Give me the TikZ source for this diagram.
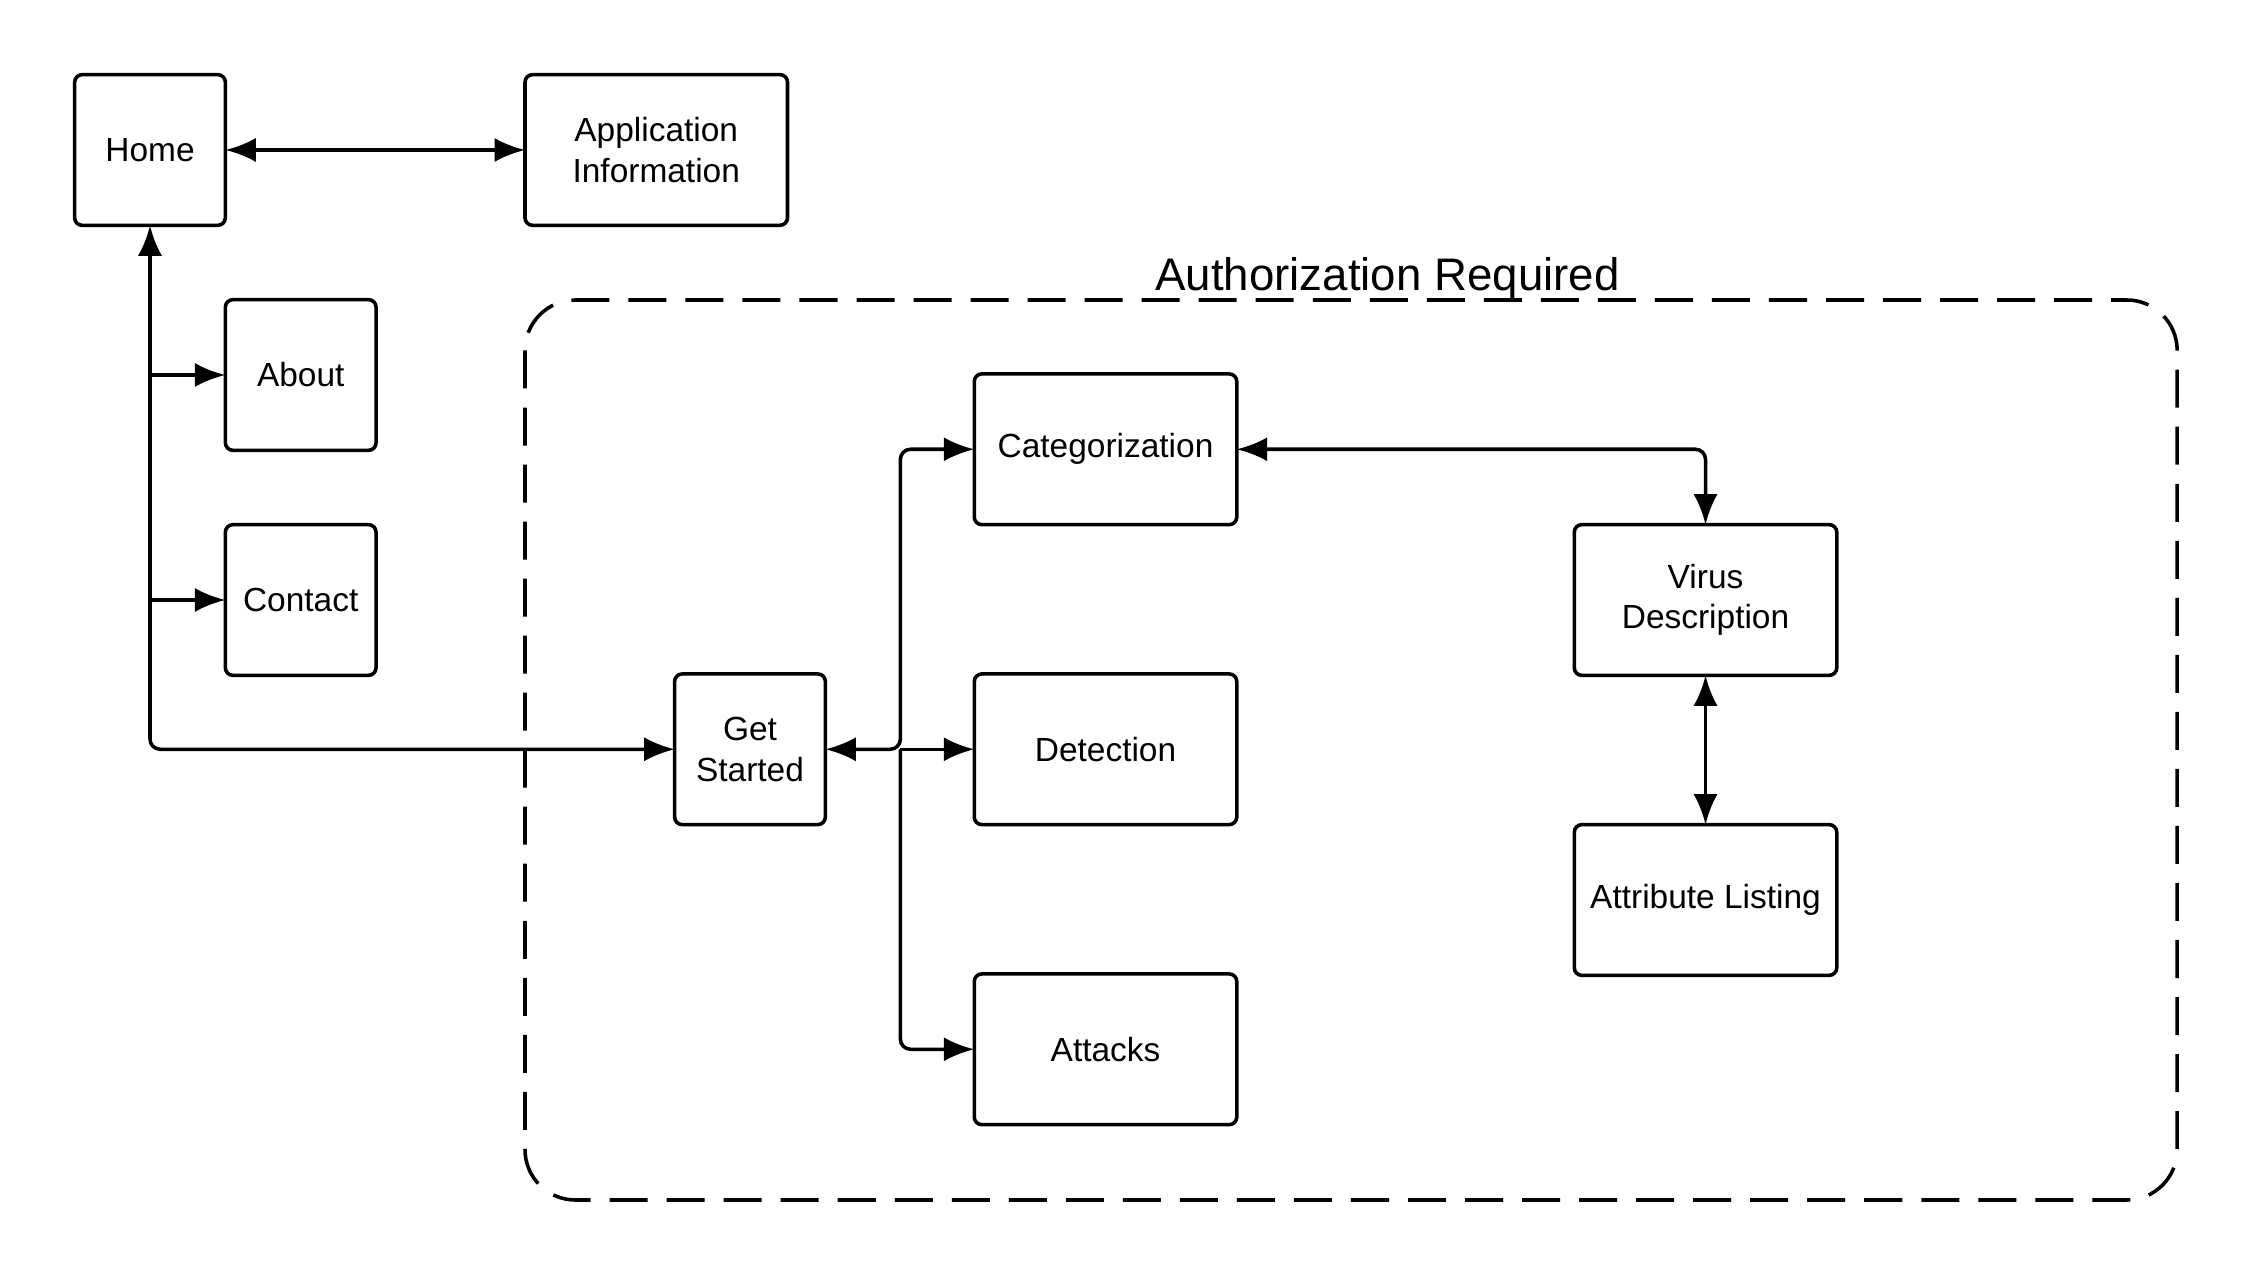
\documentclass[tikz,border=0pt]{standalone}
\usepackage{fontspec}
\setmainfont{Liberation Sans}
\usetikzlibrary{positioning,arrows.meta}
\tikzstyle{page}=[draw,rounded corners=3pt,line width=1.4pt,align=center,outer sep=0pt,
  minimum width=2.09cm,minimum height=2.09cm,inner sep=1pt,font=\fontsize{13.2}{16}\selectfont]
\tikzstyle{wide}=[page,minimum width=3.64cm]
\tikzstyle{link}=[line width=1.4pt,rounded corners=4pt]

\begin{document}
\begin{tikzpicture}[>={Latex[length=12pt,width=9.5pt]}, on grid]
  \useasboundingbox (0,0) rectangle (31.2,-17.68);

  \node[page] (home) at (2.08,-2.08) {Home};
  \node[wide, right=7.02cm of home] (info) {Application\\Information};
  \node[page, below right=3.12cm and 2.09cm of home] (about) {About};
  \node[page, below=3.12cm of about] (contact) {Contact};
  \node[page, below right=2.07cm and 6.23cm of contact] (start) {Get\\Started};
  \node[wide, right=4.93cm of start] (det) {Detection};
  \node[wide, above=4.16cm of det] (cat) {Categorization};
  \node[wide, below=4.16cm of det] (att) {Attacks};
  \node[wide, right=8.32cm of det, yshift=2.07cm] (virus) {Virus\\Description};
  \node[wide, below=4.16cm of virus] (attr) {Attribute Listing};

  % authorization area
  \draw[line width=1.4pt, rounded corners=0.7cm, dash pattern=on 15pt off 7.5pt]
    (7.28,-4.16) rectangle (30.19,-16.64);
  \node[font=\fontsize{18}{22}\selectfont] (auth) at (19.24,-3.86) {Authorization Required};

  \draw[link,<->] (home) -- (info);
  \draw[link,<->] (home) |- (start);
  \draw[link,->] (home |- about) -- (about);
  \draw[link,->] (home |- contact) -- (contact);
  \draw[link,<->] (start.east) -- ++(1.04,0) coordinate (sj) |- (cat);
  \draw[link,->] (sj) -- (det);
  \draw[link,->] (sj) |- (att);
  \draw[link,<->] (cat) -| (virus);
  \draw[link,<->] (virus) -- (attr);
\end{tikzpicture}
\end{document}
